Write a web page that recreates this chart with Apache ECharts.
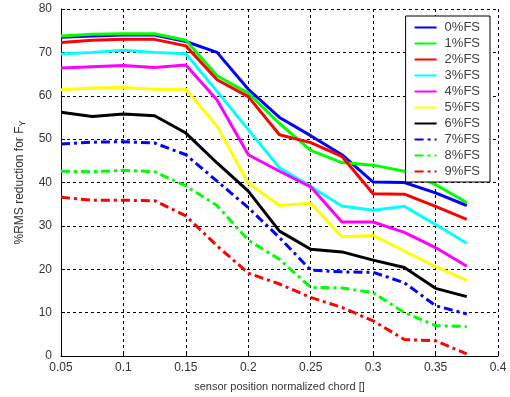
<!DOCTYPE html>
<html>
<head>
<meta charset="utf-8">
<script src="https://cdn.jsdelivr.net/npm/echarts@6/dist/echarts.min.js"></script>
<style>html,body{margin:0;padding:0;background:#fff;}#c{width:510px;height:397px;}</style>
</head>
<body>
<div id="c"></div>
<script>
const xPositions = [0.05,0.075,0.1,0.125,0.15,0.175,0.2,0.225,0.25,0.275,0.3,0.325,0.35,0.375];
const seriesNames = ['0%FS','1%FS','2%FS','3%FS','4%FS','5%FS','6%FS','7%FS','8%FS','9%FS'];
const fs0 = [73.5,73.8,74.0,74.0,72.5,70.0,61.5,55.0,50.8,46.4,40.1,40.0,37.6,34.7];
const fs1 = [73.8,74.2,74.3,74.3,72.8,64.6,60.6,53.6,47.4,44.6,44.0,42.6,39.5,35.4];
const fs2 = [72.3,72.8,73.0,73.0,71.5,63.7,59.8,51.0,49.2,46.0,37.4,37.3,34.5,31.5];
const fs3 = [69.6,70.0,70.5,70.0,69.7,61.0,52.2,43.4,39.1,34.6,33.6,34.5,30.3,26.0];
const fs4 = [66.4,66.7,67.0,66.5,67.1,59.0,46.4,42.6,39.0,30.9,30.9,28.5,25.0,20.7];
const fs5 = [61.4,61.8,61.9,61.5,61.5,53.0,39.9,34.7,35.2,27.5,27.8,24.2,20.6,17.5];
const fs6 = [56.2,55.2,55.8,55.4,51.4,44.5,38.0,28.8,24.6,24.0,22.1,20.4,15.6,13.7];
const fs7 = [48.9,49.3,49.4,49.1,46.4,40.3,34.2,27.3,19.8,19.4,19.3,16.9,11.6,9.7];
const fs8 = [42.6,42.5,42.8,42.5,39.2,34.7,26.7,22.3,15.8,15.7,14.6,10.0,7.0,6.8];
const fs9 = [36.6,35.9,35.9,35.8,32.3,25.4,19.1,16.6,13.5,11.2,8.1,3.8,3.5,0.5];
const allValues = [fs0,fs1,fs2,fs3,fs4,fs5,fs6,fs7,fs8,fs9];
const colors = ['#0000ff','#00ff00','#ff0000','#00ffff','#ff00ff','#ffff00','#000000','#0000ff','#00ff00','#ff0000'];
const dashed = [false,false,false,false,false,false,false,true,true,true];

const chart = echarts.init(document.getElementById('c'), null, {renderer:'canvas'});
const series = seriesNames.map((n,i)=>({
  name:n, type:'line', showSymbol:false, symbol:'none', animation:false,
  data: xPositions.map((x,j)=>[x, allValues[i][j]]),
  lineStyle:{color:colors[i], width:3, type: dashed[i] ? [9,4,3,4] : 'solid', cap:'butt'},
  itemStyle:{color:colors[i]}
}));
const fmt = v => String(+(+v).toFixed(3));
chart.setOption({
  animation:false,
  backgroundColor:'#fff',
  textStyle:{fontFamily:'Liberation Sans, Arial, sans-serif'},
  grid:{left:61, right:12, top:9, bottom:40},
  legend:{
    orient:'vertical', right:20, top:16, data:seriesNames,
    backgroundColor:'#fff', borderColor:'#000', borderWidth:1,
    padding:[5,10,4,8], itemWidth:22, itemHeight:10, itemGap:3,
    itemStyle:{opacity:0},
    textStyle:{fontSize:13, color:'#404040', fontFamily:'Liberation Sans, Arial, sans-serif', padding:[0,0,0,3]}
  },
  xAxis:{
    type:'value', min:0.05, max:0.4, interval:0.05,
    name:'sensor position normalized chord []', nameLocation:'middle', nameGap:25,
    nameTextStyle:{fontSize:11, color:'#333'},
    axisLine:{show:true, onZero:false, lineStyle:{color:'#000', width:1}},
    axisTick:{show:true, inside:true, length:4, lineStyle:{color:'#000'}},
    axisLabel:{fontSize:12, color:'#333', margin:6, formatter:fmt},
    splitLine:{show:true, lineStyle:{color:'#000', type:[3,3], width:1}}
  },
  yAxis:{
    type:'value', min:0, max:80, interval:10,
    name:'%RMS reduction for F{sub|Y}', nameLocation:'middle', nameGap:34, nameRotate:90,
    nameTextStyle:{fontSize:12, color:'#333', rich:{sub:{fontSize:9, color:'#333', verticalAlign:'bottom', padding:[6,0,0,0]}}},
    axisLine:{show:true, onZero:false, lineStyle:{color:'#000', width:1}},
    axisTick:{show:true, inside:true, length:4, lineStyle:{color:'#000'}},
    axisLabel:{fontSize:12, color:'#333', margin:9},
    splitLine:{show:true, lineStyle:{color:'#000', type:[3,3], width:1}}
  },
  series: series
});
</script>
</body>
</html>
